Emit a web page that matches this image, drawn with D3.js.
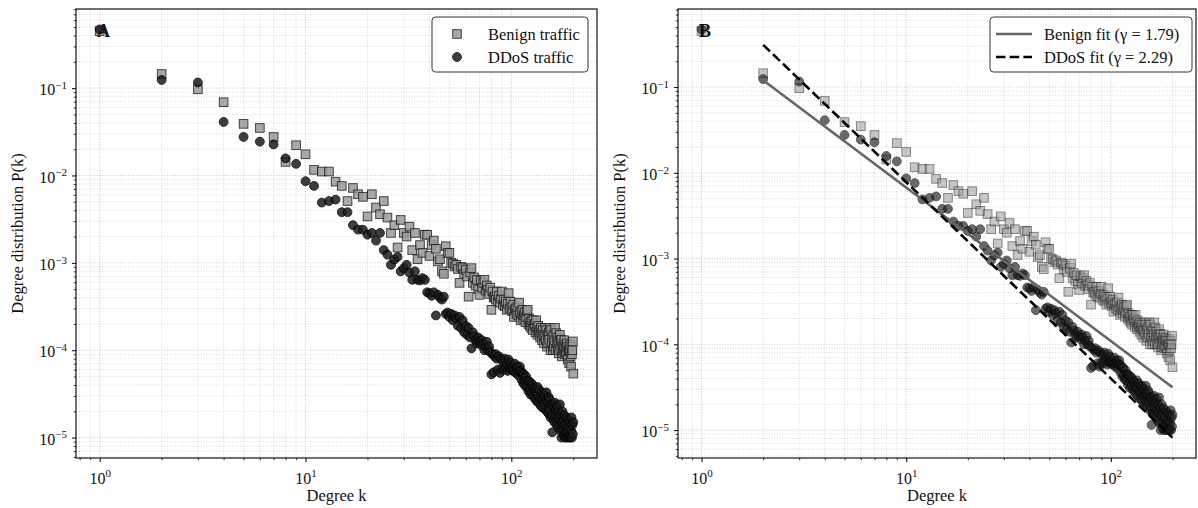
<!DOCTYPE html>
<html>
<head>
<meta charset="utf-8">
<script src="https://cdn.jsdelivr.net/npm/d3@7"></script>
<style>
  body { margin: 0; background: #fff; }
  svg { display: block; }
  text { font-family: "Liberation Serif", "Times New Roman", serif; fill: #111; }
</style>
</head>
<body>
<svg id="chart" width="1198" height="508"></svg>
<script>
// Degree distribution P(k), benign traffic, k = 1..200
const benignP = [
  0.45, 0.145, 0.097, 0.069, 0.039, 0.035, 0.0276, 0.0143, 0.0222, 0.0175,
  0.0116, 0.0111, 0.0111, 0.0085, 0.0076, 0.0051, 0.0072, 0.0061, 0.0057, 0.0034,
  0.0061, 0.0043, 0.0036, 0.0051, 0.0033, 0.0022, 0.0027, 0.0015, 0.0031, 0.0022,
  0.0020, 0.0026, 0.0014, 0.0022, 0.0011, 0.0016, 0.0013, 0.0021, 0.0021, 0.0012,
  0.0016, 0.0018, 0.00145, 0.00104, 0.0011, 0.0008, 0.00075, 0.00155, 0.0013, 0.0013,
  0.001, 0.00098, 0.00091, 0.00095, 0.00085, 0.00059, 0.0009, 0.00087, 0.00075, 0.00083,
  0.0007, 0.00041, 0.00078, 0.00087, 0.00059, 0.00068, 0.00055, 0.00064, 0.0005, 0.00043,
  0.00062, 0.00052, 0.00059, 0.00064, 0.00048, 0.00055, 0.00049, 0.00044, 0.00052, 0.00029,
  0.00047, 0.0004, 0.00041, 0.00038, 0.00047, 0.00036, 0.00042, 0.00035, 0.00039, 0.00047,
  0.00033, 0.00038, 0.00032, 0.00036, 0.00029, 0.00034, 0.00045, 0.0003, 0.00036, 0.00031,
  0.00028, 0.00033, 0.00024, 0.00029, 0.0003, 0.00026, 0.00031, 0.00025, 0.00035, 0.00027,
  0.00022, 0.00026, 0.00029, 0.00023, 0.00025, 0.00027, 0.00021, 0.00024, 0.00028, 0.00029,
  0.0002, 0.00023, 0.00019, 0.00021, 0.00018, 0.00022, 0.00017, 0.00022, 0.00019, 0.0002,
  0.00016, 0.00022, 0.00018, 0.00015, 0.00019, 0.00016, 0.00017, 0.00014, 0.00018, 0.000157,
  0.00013, 0.00017, 0.00015, 0.00012, 0.000144, 0.00018, 0.00013, 0.00017, 0.00011, 0.00015,
  0.00012, 0.00016, 0.000132, 0.00018, 0.0001, 0.00017, 0.00012, 0.00014, 0.0001, 0.00015,
  0.00011, 0.00013, 0.00018, 0.0001, 0.000157, 0.00012, 0.00014, 0.0001, 0.00013, 0.000092,
  0.00012, 0.00015, 0.0001, 0.00013, 0.000132, 0.000085, 0.00011, 0.000093, 0.00012, 0.0001,
  0.00013, 0.00009, 0.000115, 0.000095, 0.00011, 0.00012, 0.00009, 0.000078, 0.00011, 0.0001,
  0.000071, 0.0001, 0.000115, 0.000085, 0.000065, 0.00011, 0.00009, 0.0001, 0.000126, 0.000054
];

// Degree distribution P(k), DDoS traffic, k = 1..200
const ddosP = [
  0.47, 0.124, 0.116, 0.041, 0.0276, 0.0244, 0.0227, 0.0157, 0.0136, 0.0086,
  0.0076, 0.0049, 0.0051, 0.0053, 0.0038, 0.0038, 0.0027, 0.0024, 0.0024, 0.0021,
  0.0022, 0.0018, 0.0022, 0.0014, 0.00124, 0.00095, 0.00109, 0.00117, 0.0008, 0.00087,
  0.00095, 0.00077, 0.00064, 0.0008, 0.00064, 0.00063, 0.00067, 0.00064, 0.00046, 0.00045,
  0.00042, 0.00046, 0.00025, 0.00043, 0.0004, 0.00038, 0.00041, 0.00026, 0.00027, 0.00024,
  0.00026, 0.00022, 0.00025, 0.00023, 0.00019, 0.00024, 0.00018, 0.00022, 0.00016, 0.00019,
  0.00015, 0.00018, 0.00014, 0.000105, 0.00016, 0.000145, 0.00013, 0.00012, 0.00014, 0.000125,
  0.000115, 0.00013, 0.00012, 0.0001, 0.00011, 0.000125, 0.0001, 0.00011, 0.000095, 0.000053,
  0.00009, 0.000056, 0.000085, 0.00009, 0.00008, 0.00006, 0.000085, 0.000055, 0.00008, 0.000062,
  0.000075, 0.00006, 0.00008, 0.000065, 0.00007, 0.000058, 0.000078, 0.000062, 0.000072, 0.00006,
  0.000065, 0.000058, 0.00006, 0.00007, 0.000055, 0.000062, 0.000065, 0.000052, 0.000058, 0.000065,
  0.000058, 0.000046, 0.000055, 0.000042, 0.000053, 0.000044, 0.000039, 0.00005, 0.000038, 0.000045,
  0.000034, 0.000044, 0.000036, 0.000031, 0.000042, 0.000033, 0.00004, 0.00003, 0.000037, 0.000028,
  0.000036, 0.000032, 0.000026, 0.000038, 0.000031, 0.000025, 0.000035, 0.000028, 0.000023, 0.000033,
  0.000027, 0.000022, 0.000032, 0.000025, 0.00003, 0.000021, 0.000027, 0.000033, 0.00002, 0.000026,
  0.000019, 0.000029, 0.000021, 0.000027, 0.000017, 0.000024, 0.000018, 0.0000115, 0.000024, 0.000016,
  0.000022, 0.000015, 0.000025, 0.000018, 0.000021, 0.000014, 0.000023, 0.000017, 0.000013, 0.00002,
  0.000016, 0.000024, 0.000012, 0.000018, 0.00001, 0.000015, 0.00002, 0.000012, 0.000016, 0.0000105,
  0.000018, 0.00001, 0.000014, 0.0000115, 0.000017, 0.00001, 0.000013, 0.000012, 0.000016, 0.00001,
  0.000013, 0.0000105, 0.000015, 0.00001, 0.000012, 0.000017, 0.00001, 0.000014, 0.000011, 0.000015
];

// Degree values matching the arrays above
const degrees = d3.range(1, benignP.length + 1);

// Power-law fits P(k) = A * k^(-gamma), drawn over kmin..kmax
const fitNames = ["Benign fit", "DDoS fit"];
const fitGamma = [1.79, 2.29];
const fitAmplitude = [0.415, 1.52];
const fitKRange = [2, 200];

const seriesNames = ["Benign traffic", "DDoS traffic"];
const xTickExponents = [0, 1, 2];
const yTickExponents = [-5, -4, -3, -2, -1];
const panelLetters = ["A", "B"];

const svg = d3.select("#chart");

// matplotlib-style 5% padding in log space
function logDomain(values) {
  const lo = Math.log10(d3.min(values)), hi = Math.log10(d3.max(values));
  const pad = (hi - lo) * 0.05;
  return [Math.pow(10, lo - pad), Math.pow(10, hi + pad)];
}

function minorTicks(domain) {
  const out = [];
  for (let e = Math.floor(Math.log10(domain[0])) - 1; e <= Math.ceil(Math.log10(domain[1])); e++) {
    for (let m = 2; m <= 9; m++) {
      const v = m * Math.pow(10, e);
      if (v >= domain[0] && v <= domain[1]) out.push(v);
    }
  }
  return out;
}

function powLabel(sel, exp, supSize, supDy) {
  sel.text(null);
  sel.append("tspan").text("10");
  sel.append("tspan").attr("dy", supDy).attr("font-size", supSize)
    .text(exp < 0 ? "\u2212" + Math.abs(exp) : String(exp));
}

const SQ = 8.6, CR = 4.4;

function drawPanel(cfg) {
  const { left, right, top, bottom } = cfg;
  const w = right - left, h = bottom - top;
  const g = svg.append("g").attr("transform", `translate(${left},${top})`);

  const x = d3.scaleLog().domain(logDomain(cfg.xValues)).range([0, w]);
  const y = d3.scaleLog().domain(logDomain(cfg.yValues)).range([h, 0]);

  const xMajor = xTickExponents.map(e => Math.pow(10, e));
  const yMajor = yTickExponents.map(e => Math.pow(10, e));
  const xMinor = minorTicks(x.domain());
  const yMinor = minorTicks(y.domain());

  // grid
  const grid = g.append("g");
  const gridLine = (sel, color) => sel.attr("stroke", color).attr("stroke-width", 0.8)
    .attr("stroke-dasharray", "1,1.6");
  grid.selectAll(".gxm").data(xMinor).join("line")
    .attr("x1", d => x(d)).attr("x2", d => x(d)).attr("y1", 0).attr("y2", h)
    .call(gridLine, "#cfcfcf");
  grid.selectAll(".gym").data(yMinor).join("line")
    .attr("y1", d => y(d)).attr("y2", d => y(d)).attr("x1", 0).attr("x2", w)
    .call(gridLine, "#cfcfcf");
  grid.selectAll(".gxM").data(xMajor).join("line")
    .attr("x1", d => x(d)).attr("x2", d => x(d)).attr("y1", 0).attr("y2", h)
    .call(gridLine, "#bbbbbb");
  grid.selectAll(".gyM").data(yMajor).join("line")
    .attr("y1", d => y(d)).attr("y2", d => y(d)).attr("x1", 0).attr("x2", w)
    .call(gridLine, "#bbbbbb");

  // markers
  const benign = degrees.map((k, i) => ({ k, p: benignP[i] }));
  const ddos = degrees.map((k, i) => ({ k, p: ddosP[i] }));
  g.append("g").selectAll("rect").data(benign).join("rect")
    .attr("x", d => x(d.k) - SQ / 2).attr("y", d => y(d.p) - SQ / 2)
    .attr("width", SQ).attr("height", SQ)
    .attr("fill", "#9a9a9a").attr("stroke", "#222").attr("stroke-width", 1)
    .attr("opacity", cfg.benignAlpha);
  g.append("g").selectAll("circle").data(ddos).join("circle")
    .attr("cx", d => x(d.k)).attr("cy", d => y(d.p)).attr("r", CR)
    .attr("fill", "#1c1c1c").attr("stroke", "#000").attr("stroke-width", 1)
    .attr("opacity", cfg.ddosAlpha);

  // fitted power laws
  if (cfg.fits) {
    const line = d3.line().x(d => x(d[0])).y(d => y(d[1]));
    fitGamma.forEach((gm, i) => {
      const pts = fitKRange.map(k => [k, fitAmplitude[i] * Math.pow(k, -gm)]);
      g.append("path").attr("d", line(pts)).attr("fill", "none")
        .attr("stroke", i === 0 ? "#666" : "#000").attr("stroke-width", 2.6)
        .attr("stroke-dasharray", i === 0 ? null : "9.5,4.2");
    });
  }

  // axes
  const gx = g.append("g").attr("transform", `translate(0,${h})`)
    .call(d3.axisBottom(x).tickValues(xMajor).tickSize(4).tickSizeOuter(0).tickPadding(5));
  gx.select(".domain").remove();
  gx.selectAll(".tick line").attr("stroke", "#000").attr("stroke-width", 1);
  gx.selectAll(".tick text").attr("font-size", 16).attr("dy", "1.05em")
    .each(function (d) { powLabel(d3.select(this), Math.round(Math.log10(d)), 11, -6.5); });
  const gxm = g.append("g").attr("transform", `translate(0,${h})`)
    .call(d3.axisBottom(x).tickValues(xMinor).tickSize(2.2).tickSizeOuter(0).tickFormat(""));
  gxm.select(".domain").remove();
  gxm.selectAll(".tick line").attr("stroke", "#000").attr("stroke-width", 0.8);

  const gy = g.append("g")
    .call(d3.axisLeft(y).tickValues(yMajor).tickSize(4).tickSizeOuter(0).tickPadding(5));
  gy.select(".domain").remove();
  gy.selectAll(".tick line").attr("stroke", "#000").attr("stroke-width", 1);
  gy.selectAll(".tick text").attr("font-size", 16).attr("dy", "0.42em")
    .each(function (d) { powLabel(d3.select(this), Math.round(Math.log10(d)), 11, -6.5); });
  const gym = g.append("g")
    .call(d3.axisLeft(y).tickValues(yMinor).tickSize(2.2).tickSizeOuter(0).tickFormat(""));
  gym.select(".domain").remove();
  gym.selectAll(".tick line").attr("stroke", "#000").attr("stroke-width", 0.8);
  g.selectAll(".tick text").attr("font-family", null).attr("fill", "#111");

  // frame
  g.append("rect").attr("width", w).attr("height", h)
    .attr("fill", "none").attr("stroke", "#000").attr("stroke-width", 1.1);

  // axis titles
  g.append("text").attr("x", w / 2).attr("y", h + 43).attr("text-anchor", "middle")
    .attr("font-size", 16.5).text("Degree k");
  g.append("text").attr("transform", `translate(${cfg.yTitleX},${h / 2}) rotate(-90)`)
    .attr("text-anchor", "middle").attr("font-size", 16.5).text("Degree distribution P(k)");

  // panel letter
  g.append("text").attr("x", 21).attr("y", 28).attr("font-size", 18)
    .attr("font-weight", "bold").text(cfg.letter);

  // legend
  const lg = g.append("g").attr("transform", `translate(${cfg.legend.x},${cfg.legend.y})`);
  lg.append("rect").attr("width", cfg.legend.w).attr("height", 55).attr("rx", 3.5)
    .attr("fill", "#fff").attr("fill-opacity", 0.9).attr("stroke", "#333").attr("stroke-width", 1);
  const rows = [17, 40];
  if (!cfg.fits) {
    lg.append("rect").attr("x", 25 - SQ / 2).attr("y", rows[0] - SQ / 2).attr("width", SQ).attr("height", SQ)
      .attr("fill", "#9a9a9a").attr("stroke", "#222").attr("opacity", cfg.benignAlpha);
    lg.append("circle").attr("cx", 25).attr("cy", rows[1]).attr("r", CR)
      .attr("fill", "#1c1c1c").attr("stroke", "#000").attr("opacity", cfg.ddosAlpha);
    seriesNames.forEach((s, i) => lg.append("text").attr("x", 56).attr("y", rows[i] + 5.5)
      .attr("font-size", 16.5).text(s));
  } else {
    lg.append("line").attr("x1", 6).attr("x2", 42).attr("y1", rows[0]).attr("y2", rows[0])
      .attr("stroke", "#666").attr("stroke-width", 2.6);
    lg.append("line").attr("x1", 6).attr("x2", 42).attr("y1", rows[1]).attr("y2", rows[1])
      .attr("stroke", "#000").attr("stroke-width", 2.6).attr("stroke-dasharray", "9.5,4.2");
    fitNames.forEach((s, i) => lg.append("text").attr("x", 54).attr("y", rows[i] + 5.5)
      .attr("font-size", 16.5).text(`${s} (\u03b3 = ${fitGamma[i].toFixed(2)})`));
  }
}

drawPanel({
  left: 76, right: 597, top: 9, bottom: 458, letter: panelLetters[0], yTitleX: -53,
  xValues: degrees, yValues: benignP.concat(ddosP),
  benignAlpha: 0.85, ddosAlpha: 0.85, fits: false,
  legend: { x: 356, y: 8, w: 156 }
});

drawPanel({
  left: 678, right: 1196, top: 9, bottom: 458, letter: panelLetters[1], yTitleX: -53,
  xValues: degrees.concat(fitKRange),
  yValues: benignP.concat(ddosP, fitGamma.flatMap((gm, i) => fitKRange.map(k => fitAmplitude[i] * Math.pow(k, -gm)))),
  benignAlpha: 0.55, ddosAlpha: 0.65, fits: true,
  legend: { x: 312, y: 8, w: 202 }
});
</script>
</body>
</html>
